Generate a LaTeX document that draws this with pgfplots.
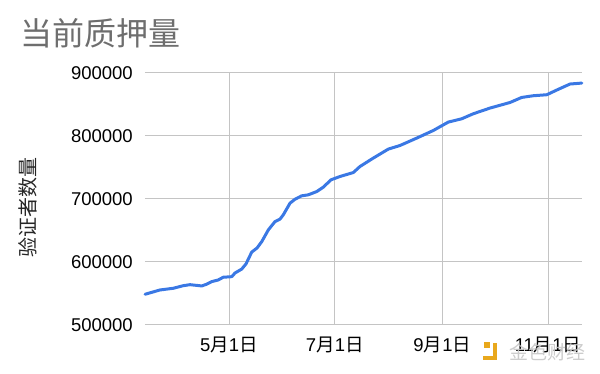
\documentclass[border=0pt]{standalone}
\usepackage{fontspec}
\setmainfont{Liberation Sans}
\newfontfamily\cjk{Noto Sans CJK SC}
\usepackage{pgfplots}
\pgfplotsset{compat=1.18}
\definecolor{lineblue}{HTML}{3A78E4}
\definecolor{gridgray}{HTML}{C4C4C4}
\definecolor{titlegray}{HTML}{6E6E6E}
\definecolor{logoorange}{HTML}{E9A81C}
% month/day tick label: digits in the text font, 月/日 in the CJK font
\newcommand\md[2]{#1{\cjk 月}#2{\cjk 日}}

\begin{document}
\begin{tikzpicture}
\path[use as bounding box] (-145pt,-49pt) rectangle (455pt,325pt);
\begin{axis}[
  at={(0,0)}, anchor=south west, scale only axis,
  width=437pt, height=252pt,
  xmin=-48.45, xmax=203.6,
  ymin=500000, ymax=900000,
  xtick={0,61,123,184},
  xticklabels={\md{5}{1},\md{7}{1},\md{9}{1},\md{11}{1}},
  ytick={500000,600000,700000,800000,900000},
  yticklabels={500000,600000,700000,800000,900000},
  grid=major,
  major grid style={gridgray, line width=1pt},
  axis line style={draw=none},
  major tick length=0pt,
  scaled y ticks=false,
  ticklabel style={font=\fontsize{18.5}{20}\selectfont, text=black},
  yticklabel style={anchor=east, inner sep=0pt, xshift=-12pt},
  xticklabel style={anchor=north, inner sep=0pt, yshift=-12pt},
  clip=false,
]
% days counted from 1 May
\addplot[lineblue, line width=3pt, line join=round, line cap=round] coordinates {
  (-48.4,548800) (-39.8,555600) (-32.1,558300) (-26.4,562400) (-22.5,564000)
  (-15.7,562000) (-12.9,564700) (-10.0,568800) (-6.2,571500) (-3.3,575800)
  (1.6,576700) (3.5,582600) (7.3,588700) (9.8,596900) (13.1,615700)
  (16.2,622300) (18.9,632400) (22.7,651000) (26.5,664100) (29.4,668000)
  (31.3,674800) (35.2,693400) (38.1,699700) (41.9,705000) (45.7,706600)
  (50.6,711800) (54.4,718800) (58.8,730400) (64.0,735700) (71.7,742000)
  (75.5,751500) (83.2,764900) (91.9,779200) (98.6,784900) (108.3,796700)
  (117.8,808700) (126.5,822100) (134.2,827300) (140.9,835300) (150.5,844300)
  (162.1,853200) (168.8,861200) (175.5,863900) (183.3,865500) (189.0,872900)
  (196.7,882500) (203.5,884000)
};
\end{axis}
% title and vertical axis label
\node[anchor=west, text=titlegray, font=\cjk\fontsize{32}{34}\selectfont, inner sep=0pt]
  at (-125pt,292pt) {当前质押量};
\node[rotate=90, font=\cjk\fontsize{20}{22}\selectfont, text=black!85, inner sep=0pt]
  at (-117pt,117pt) {验证者数量};
% watermark
\fill[logoorange] (339pt,-23pt) rectangle (345pt,-17pt);
\fill[logoorange] (348pt,-18pt) rectangle (352pt,-35pt);
\fill[logoorange] (338pt,-31pt) rectangle (352pt,-35pt);
\node[anchor=west, font=\cjk\fontsize{19}{20}\selectfont, text=black!22, inner sep=0pt, opacity=0.9]
  at (364pt,-27pt) {金色财经};
\end{tikzpicture}
\end{document}
